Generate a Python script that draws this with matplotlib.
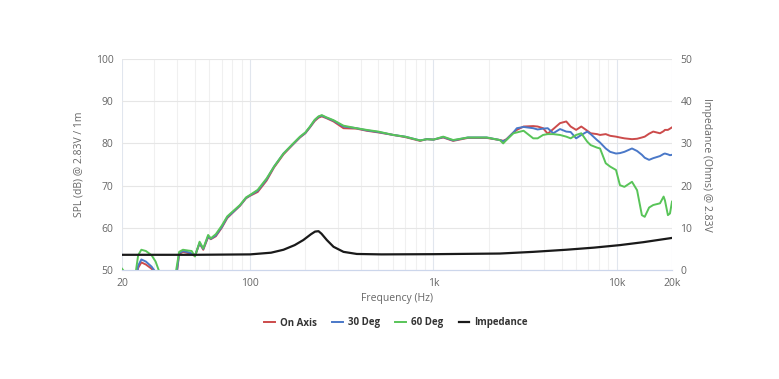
import matplotlib.pyplot as plt
from matplotlib.ticker import FixedLocator, NullFormatter

# Frequencies (Hz) shared by the three SPL curves
freq = [20, 22, 23.5, 24.5, 25.5, 27, 29, 30.5, 32, 35, 38, 39.5, 41, 43, 46, 48,
        50, 53, 55.5, 59, 61, 65, 70, 75, 80, 88, 95, 100, 110, 123, 135, 152,
        170, 187, 200, 212, 225, 236, 246, 260, 285, 323, 380, 432, 500, 604,
        700, 845, 920, 1000, 1130, 1280, 1540, 1950, 2300, 2400, 2500, 2730,
        2850, 3100, 3500, 3700, 3960, 4200, 4500, 4900, 5300, 5600, 6000, 6400,
        6900, 7200, 7800, 8100, 8700, 9200, 9900, 10400, 11000, 12100, 12900,
        13700, 14200, 15000, 15800, 17200, 18000, 18300, 19000, 19500, 20000]

on_axis = [45, 45, 46, 50.5, 51.8, 51.3, 50.3, 49, 47, 44, 45, 48, 53.8, 54.3, 54.0, 53.8,
           53.3, 56.3, 54.8, 57.8, 57.3, 58, 60, 62.3, 63.5, 65.2, 67.0, 67.6, 68.5, 71.2, 74.3, 77.4,
           79.6, 81.4, 82.4, 83.8, 85.3, 86.1, 86.4, 86.0, 85.2, 83.6, 83.5, 83.0, 82.6, 82.0,
           81.5, 80.6, 81.0, 80.9, 81.4, 80.6, 81.3, 81.3, 80.8, 80.6, 81.0, 82.6,
           83.2, 84.0, 84.1, 84.0, 83.6, 82.3, 83.4, 84.8, 85.2, 84.0, 83.2, 84.0,
           83.0, 82.4, 82.2, 82.0, 82.2, 81.8, 81.6, 81.4, 81.2, 81.0, 81.1,
           81.4, 81.6, 82.3, 82.8, 82.4, 82.9, 83.2, 83.2, 83.5, 83.8]

deg30 = [45, 45, 46, 51.0, 52.5, 52.0, 50.8, 49.5, 47.5, 44, 45, 48.5, 54.0, 54.5, 54.2, 53.9,
         53.4, 56.4, 55.0, 58.0, 57.4, 58.2, 60.2, 62.5, 63.6, 65.3, 67.1, 67.7, 68.8, 71.5, 74.5, 77.6,
         79.7, 81.5, 82.5, 83.9, 85.5, 86.3, 86.6, 86.1, 85.4, 84.0, 83.6, 83.1, 82.7, 82.0,
         81.6, 80.7, 81.0, 80.9, 81.5, 80.7, 81.4, 81.4, 80.8, 80.5, 80.9, 82.6,
         83.6, 83.9, 83.6, 83.3, 83.5, 83.6, 82.4, 83.4, 82.8, 82.7, 81.2, 82.0,
         82.8, 82.2, 80.8, 80.2, 78.8, 78.0, 77.6, 77.7, 78.0, 78.8, 78.2,
         77.3, 76.6, 76.1, 76.5, 77.0, 77.5, 77.6, 77.4, 77.2, 77.3]

deg60 = [50.3, 48, 48, 53.5, 54.8, 54.5, 53.5, 52, 49.5, 45, 46, 50, 54.3, 54.8, 54.6, 54.5,
         53.2, 56.7, 55.1, 58.3, 57.5, 58.5, 60.5, 62.7, 63.8, 65.4, 67.2, 67.8, 69.0, 71.7, 74.5, 77.6,
         79.8, 81.6, 82.6, 84.0, 85.6, 86.4, 86.7, 86.2, 85.5, 84.2, 83.6, 83.2, 82.8, 82.0,
         81.6, 80.7, 81.0, 80.9, 81.6, 80.8, 81.4, 81.4, 80.8, 80.0, 80.8, 82.4,
         82.6, 83.0, 81.2, 81.2, 82.0, 82.2, 82.2, 82.0, 81.6, 81.2, 82.0, 82.4,
         80.4, 79.6, 79.0, 78.8, 75.3, 74.5, 73.7, 70.1, 69.7, 70.9, 68.9,
         63.0, 62.6, 64.8, 65.4, 65.8, 67.4, 66.5, 63.0, 63.4, 66.2]

# Impedance curve (Ohms)
imp_freq = [20, 50, 100, 130, 152, 175, 195, 215, 226, 236, 245, 262, 285, 323, 382,
            520, 1000, 2300, 3500, 5300, 7500, 10400, 14000, 20000]
impedance = [3.6, 3.6, 3.7, 4.1, 4.8, 5.9, 7.1, 8.5, 9.1, 9.2, 8.6, 7.1, 5.5, 4.3, 3.8,
             3.7, 3.75, 3.9, 4.3, 4.8, 5.3, 5.9, 6.6, 7.6]

x_ticks = [20, 100, 1000, 10000, 20000]
x_labels = ['20', '100', '1k', '10k', '20k']
minor_x = [30, 40, 50, 60, 70, 80, 90, 200, 300, 400, 500, 600, 700, 800, 900,
           2000, 3000, 4000, 5000, 6000, 7000, 8000, 9000]

plt.rcParams['font.family'] = ['Open Sans', 'DejaVu Sans']

fig = plt.figure(figsize=(7.79, 3.79), dpi=100)
ax = fig.add_axes([122 / 779, 1 - 270 / 379, 550 / 779, 211 / 379])
ax2 = ax.twinx()

tick_col = '#666666'

ax.set_xscale('log')
ax.set_xlim(20, 20000)
ax.set_ylim(50, 100)
ax2.set_ylim(0, 50)

# grid
for f in minor_x:
    ax.axvline(f, color='#f0f0f0', lw=0.8, zorder=0)
for f in x_ticks:
    ax.axvline(f, color='#e1e6ee', lw=0.8, zorder=0)
for v in range(60, 101, 10):
    ax.axhline(v, color='#e6e6e6', lw=0.8, zorder=0)

ax.plot(freq, on_axis, color='#cc4b4b', lw=1.4, label='On Axis', zorder=3)
ax.plot(freq, deg30, color='#4a78c8', lw=1.4, label='30 Deg', zorder=4)
ax.plot(freq, deg60, color='#58c458', lw=1.4, label='60 Deg', zorder=5)
ax2.plot(imp_freq, impedance, color='#1a1a1a', lw=1.6, label='Impedance')

ax.xaxis.set_major_locator(FixedLocator(x_ticks))
ax.xaxis.set_minor_locator(FixedLocator([]))
ax.xaxis.set_minor_formatter(NullFormatter())
ax.set_xticklabels(x_labels)
ax.set_yticks(range(50, 101, 10))
ax2.set_yticks(range(0, 51, 10))

for a in (ax, ax2):
    for s in ('top', 'left', 'right'):
        a.spines[s].set_visible(False)
    a.spines['bottom'].set_color('#ccd6eb')
    a.tick_params(length=0, colors=tick_col, labelsize=7.5)
ax.tick_params(axis='x', pad=6)
ax.tick_params(axis='y', pad=6)
ax2.tick_params(axis='y', pad=6)

ax.set_xlabel('Frequency (Hz)', color=tick_col, fontsize=7.5, labelpad=3)
ax.set_ylabel('SPL (dB) @ 2.83V / 1m', color=tick_col, fontsize=7.5, labelpad=8)
ax2.set_ylabel('Impedance (Ohms) @ 2.83V', color=tick_col, fontsize=7.5,
               rotation=270, labelpad=14)

h1, l1 = ax.get_legend_handles_labels()
h2, l2 = ax2.get_legend_handles_labels()
leg = fig.legend(h1 + h2, l1 + l2, loc='center', bbox_to_anchor=(396 / 779, 1 - 323 / 379),
                 ncol=4, frameon=False, handlelength=1.1, columnspacing=1.6,
                 handletextpad=0.5, prop={'size': 7, 'weight': 'bold'})
for t in leg.get_texts():
    t.set_color('#333333')

fig.savefig('out.png', dpi=100)
